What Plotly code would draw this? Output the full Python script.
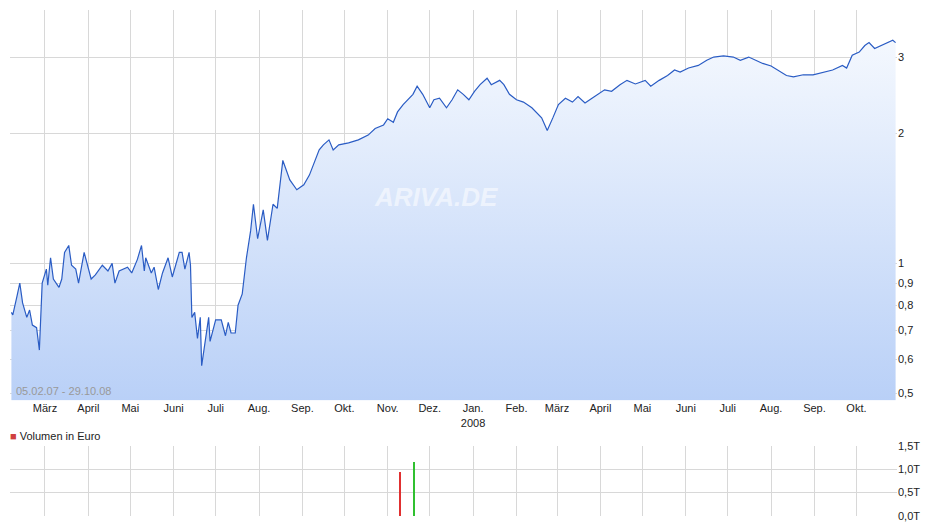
import plotly.graph_objects as go
from plotly.subplots import make_subplots

# price curve
dates = ["2007-02-05","2007-02-06","2007-02-09","2007-02-11","2007-02-13","2007-02-16","2007-02-18","2007-02-20","2007-02-23","2007-02-25","2007-02-27",
"2007-03-02","2007-03-03","2007-03-05","2007-03-07","2007-03-11","2007-03-13","2007-03-15","2007-03-18","2007-03-20","2007-03-23","2007-03-25","2007-03-29",
"2007-04-03","2007-04-06","2007-04-11","2007-04-15","2007-04-18","2007-04-20","2007-04-23","2007-04-29",
"2007-05-02","2007-05-06","2007-05-09","2007-05-11","2007-05-12","2007-05-16","2007-05-18","2007-05-21","2007-05-24","2007-05-28","2007-05-31",
"2007-06-05","2007-06-07","2007-06-09","2007-06-12","2007-06-13","2007-06-14","2007-06-16","2007-06-18","2007-06-20","2007-06-21","2007-06-26","2007-06-27",
"2007-07-01","2007-07-05","2007-07-08","2007-07-10","2007-07-12","2007-07-15","2007-07-17","2007-07-20","2007-07-23","2007-07-26","2007-07-28","2007-07-31",
"2007-08-04","2007-08-07","2007-08-11","2007-08-14","2007-08-18","2007-08-23","2007-08-28",
"2007-09-02","2007-09-06","2007-09-09","2007-09-13","2007-09-16","2007-09-20","2007-09-23","2007-09-27",
"2007-10-04","2007-10-11","2007-10-18","2007-10-23","2007-10-29",
"2007-11-01","2007-11-05","2007-11-08","2007-11-12","2007-11-15","2007-11-19","2007-11-22","2007-11-26",
"2007-12-01","2007-12-04","2007-12-08","2007-12-13","2007-12-17","2007-12-21","2007-12-25","2007-12-29",
"2008-01-02","2008-01-06","2008-01-11","2008-01-14","2008-01-20","2008-01-23","2008-01-27",
"2008-02-01","2008-02-06","2008-02-12","2008-02-19","2008-02-23","2008-02-27",
"2008-03-02","2008-03-07","2008-03-12","2008-03-16","2008-03-21","2008-03-26","2008-03-30",
"2008-04-04","2008-04-09","2008-04-15","2008-04-20","2008-04-26",
"2008-05-03","2008-05-07","2008-05-13","2008-05-19","2008-05-24","2008-05-28",
"2008-06-03","2008-06-10","2008-06-16","2008-06-21","2008-06-28",
"2008-07-05","2008-07-10","2008-07-16","2008-07-21","2008-07-26",
"2008-08-01","2008-08-06","2008-08-12","2008-08-17","2008-08-24","2008-08-31",
"2008-09-07","2008-09-14","2008-09-21","2008-09-24","2008-09-28",
"2008-10-03","2008-10-07","2008-10-10","2008-10-14","2008-10-19","2008-10-23","2008-10-27","2008-10-29"]
prices = [0.77,0.76,0.84,0.90,0.81,0.75,0.78,0.72,0.71,0.63,0.90,
0.97,0.89,1.03,0.92,0.88,0.92,1.06,1.10,0.99,0.97,0.90,1.06,
0.92,0.94,0.99,0.96,1.00,0.90,0.96,0.98,
0.95,1.02,1.10,0.96,1.03,0.95,0.98,0.87,0.95,1.03,0.93,
1.06,1.06,0.97,1.06,0.99,0.75,0.77,0.67,0.75,0.58,0.75,0.66,
0.74,0.74,0.68,0.73,0.69,0.69,0.80,0.85,1.03,1.19,1.37,1.14,
1.33,1.13,1.37,1.34,1.73,1.56,1.48,
1.52,1.60,1.69,1.83,1.88,1.93,1.83,1.88,
1.90,1.93,1.98,2.05,2.09,
2.16,2.12,2.24,2.33,2.39,2.46,2.57,2.46,
2.29,2.39,2.41,2.29,2.39,2.52,2.46,2.39,
2.50,2.59,2.68,2.59,2.65,2.59,2.46,
2.39,2.36,2.29,2.17,2.03,2.17,
2.33,2.41,2.36,2.43,2.35,2.41,2.46,
2.52,2.50,2.59,2.65,2.60,
2.65,2.57,2.65,2.72,2.80,2.77,
2.83,2.87,2.95,3.00,3.02,
3.00,2.95,3.00,2.95,2.90,
2.86,2.80,2.72,2.70,2.73,2.73,
2.76,2.80,2.87,2.83,3.03,
3.08,3.19,3.24,3.14,3.19,3.24,3.28,3.24]

vol_dates = ["2007-11-10", "2007-11-20"]
vol_values = [0.95e12, 1.15e12]
vol_colors = ["#e03030", "#30c030"]

month_starts = ["2007-03-01","2007-04-01","2007-05-01","2007-06-01","2007-07-01","2007-08-01","2007-09-01","2007-10-01",
                "2007-11-01","2007-12-01","2008-01-01","2008-02-01","2008-03-01","2008-04-01","2008-05-01","2008-06-01",
                "2008-07-01","2008-08-01","2008-09-01","2008-10-01"]
month_labels = ["März","April","Mai","Juni","Juli","Aug.","Sep.","Okt.","Nov.","Dez.","Jan.<br>2008","Feb.",
                "März","April","Mai","Juni","Juli","Aug.","Sep.","Okt."]
price_ticks = [0.5,0.6,0.7,0.8,0.9,1,2,3]
price_labels = ["0,5","0,6","0,7","0,8","0,9","1","2","3"]

fig = make_subplots(rows=2, cols=1, row_heights=[0.78, 0.14], vertical_spacing=0.09)

ybase = 0.482
fig.add_trace(go.Scatter(x=[dates[0], dates[-1]], y=[ybase, ybase], mode="lines",
                         line=dict(width=0), hoverinfo="skip", showlegend=False), row=1, col=1)
fig.add_trace(go.Scatter(x=dates, y=prices, mode="lines", fill="tonexty",
                         fillgradient=dict(type="vertical", colorscale=[[0, "#b9d0f7"], [1, "#f4f8fe"]]),
                         line=dict(color="#2a5cc4", width=1.2), showlegend=False), row=1, col=1)

fig.add_trace(go.Bar(x=vol_dates, y=vol_values, marker=dict(color=vol_colors, line=dict(width=0)),
                     width=86400000 * 0.8, showlegend=False), row=2, col=1)

xr = ["2007-02-04", "2008-10-30"]
axis_font = dict(family="Liberation Sans, Arial", size=11, color="#222")
fig.update_xaxes(range=xr, tickvals=month_starts, ticktext=month_labels, showgrid=True,
                 gridcolor="#d8d8d8", tickfont=axis_font, showline=False, zeroline=False, ticks="")
fig.update_xaxes(showticklabels=False, row=2, col=1)
fig.update_yaxes(type="log", range=[-0.317, 0.586], tickvals=price_ticks, ticktext=price_labels,
                 side="right", gridcolor="#d8d8d8", tickfont=axis_font, zeroline=False, automargin=False, row=1, col=1)
fig.update_yaxes(range=[0, 1.5e12], tickvals=[0, 0.5e12, 1e12, 1.5e12], ticktext=["0,0T","0,5T","1,0T","1,5T"],
                 side="right", gridcolor="#d8d8d8", tickfont=axis_font, zeroline=False, automargin=False, row=2, col=1)

fig.add_annotation(xref="x", yref="paper", x="2007-02-07", y=0.232, text="05.02.07 - 29.10.08",
                   showarrow=False, xanchor="left", yanchor="bottom", font=dict(family="Liberation Sans, Arial", size=11, color="#999"))
fig.add_annotation(xref="paper", yref="paper", x=0.48, y=0.63, text="<i><b>ARIVA.DE</b></i>", showarrow=False,
                   font=dict(family="Liberation Sans, Arial", size=26, color="rgba(255,255,255,0.55)"))
fig.add_annotation(xref="paper", yref="paper", x=0.0, y=0.158, text="<span style='color:#d04040'>■</span> Volumen in Euro",
                   showarrow=False, xanchor="left", yanchor="middle", xshift=-2, font=dict(family="Liberation Sans, Arial", size=11, color="#222"))

fig.update_layout(width=932, height=518, margin=dict(l=2, r=43, t=2, b=10, autoexpand=False),
                  plot_bgcolor="white", paper_bgcolor="white", bargap=0)
fig.write_html("out.html")
